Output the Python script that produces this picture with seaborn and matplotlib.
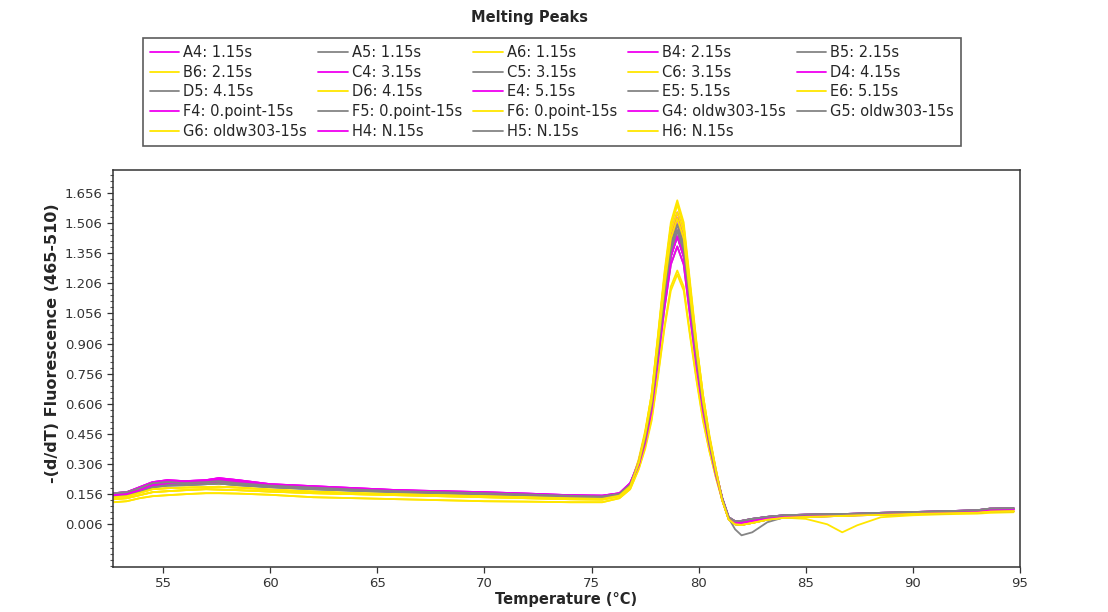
import numpy as np
import pandas as pd
import seaborn as sns
import matplotlib.pyplot as plt
from matplotlib.lines import Line2D
from matplotlib.ticker import AutoMinorLocator

# temperature grid (deg C) shared by every sample
temps = [52.7, 53.3, 53.9, 54.5, 55.2, 56.0, 57.0, 57.6, 58.5, 60.0,
         62.0, 64.0, 66.0, 68.0, 70.0, 72.0, 74.0, 75.5, 76.3, 76.8,
         77.2, 77.5, 77.8, 78.1, 78.4, 78.7, 79.0, 79.3, 79.6, 79.9,
         80.2, 80.5, 80.8,
         81.1, 81.4, 81.7, 82.0, 82.5, 83.2, 84.0, 85.0, 86.0, 86.7,
         87.4, 88.5, 90.0, 91.5, 93.0, 93.6, 94.7]

labels = ['A4: 1.15s', 'A5: 1.15s', 'A6: 1.15s', 'B4: 2.15s', 'B5: 2.15s',
          'B6: 2.15s', 'C4: 3.15s', 'C5: 3.15s', 'C6: 3.15s', 'D4: 4.15s',
          'D5: 4.15s', 'D6: 4.15s', 'E4: 5.15s', 'E5: 5.15s', 'E6: 5.15s',
          'F4: 0.point-15s', 'F5: 0.point-15s', 'F6: 0.point-15s',
          'G4: oldw303-15s', 'G5: oldw303-15s', 'G6: oldw303-15s',
          'H4: N.15s', 'H5: N.15s', 'H6: N.15s']

a4 = [0.16, 0.165, 0.19, 0.215, 0.225, 0.22, 0.225, 0.235, 0.225, 0.205, 0.195, 0.185, 0.175, 0.17, 0.165, 0.158, 0.15, 0.148, 0.16, 0.21,
      0.31, 0.45, 0.62, 0.90, 1.19, 1.43, 1.53, 1.43, 1.14, 0.87, 0.62, 0.43, 0.27,
      0.135, 0.04, 0.02, 0.022, 0.032, 0.042, 0.05, 0.053, 0.055, 0.056, 0.058, 0.062, 0.066, 0.07, 0.075, 0.083, 0.085]
a5 = [0.155, 0.16, 0.18, 0.2, 0.205, 0.205, 0.21, 0.21, 0.205, 0.195, 0.185, 0.175, 0.168, 0.162, 0.158, 0.152, 0.145, 0.142, 0.155, 0.2,
      0.31, 0.43, 0.60, 0.86, 1.14, 1.37, 1.47, 1.37, 1.10, 0.83, 0.60, 0.41, 0.26,
      0.13, 0.035, 0.012, 0.012, 0.022, 0.035, 0.045, 0.048, 0.05, 0.052, 0.055, 0.058, 0.062, 0.066, 0.07, 0.078, 0.08]
a6 = [0.14, 0.145, 0.162, 0.18, 0.185, 0.188, 0.19, 0.192, 0.188, 0.178, 0.168, 0.16, 0.155, 0.15, 0.145, 0.14, 0.135, 0.132, 0.148, 0.195,
      0.32, 0.46, 0.65, 0.94, 1.24, 1.49, 1.60, 1.49, 1.19, 0.90, 0.65, 0.44, 0.28,
      0.125, 0.03, 0.005, 0.002, 0.012, 0.028, 0.038, 0.042, 0.045, 0.047, 0.05, 0.052, 0.057, 0.06, 0.063, 0.068, 0.07]
b4 = [0.15, 0.155, 0.175, 0.2, 0.21, 0.21, 0.215, 0.22, 0.215, 0.2, 0.19, 0.18, 0.172, 0.166, 0.16, 0.155, 0.148, 0.145, 0.158, 0.205,
      0.31, 0.44, 0.61, 0.88, 1.165, 1.40, 1.50, 1.40, 1.12, 0.85, 0.61, 0.42, 0.265,
      0.13, 0.035, 0.012, 0.012, 0.022, 0.035, 0.045, 0.048, 0.05, 0.052, 0.055, 0.058, 0.062, 0.066, 0.07, 0.078, 0.08]
b5 = [0.145, 0.15, 0.17, 0.19, 0.198, 0.2, 0.205, 0.208, 0.2, 0.19, 0.18, 0.172, 0.165, 0.16, 0.155, 0.15, 0.143, 0.14, 0.152, 0.198,
      0.30, 0.43, 0.59, 0.85, 1.12, 1.34, 1.44, 1.34, 1.08, 0.82, 0.59, 0.41, 0.26,
      0.135, 0.04, 0.02, 0.022, 0.032, 0.042, 0.05, 0.053, 0.055, 0.056, 0.058, 0.062, 0.066, 0.07, 0.075, 0.083, 0.085]
b6 = [0.13, 0.135, 0.15, 0.165, 0.17, 0.175, 0.18, 0.178, 0.175, 0.168, 0.16, 0.155, 0.15, 0.145, 0.14, 0.135, 0.13, 0.128, 0.145, 0.19,
      0.33, 0.47, 0.65, 0.95, 1.26, 1.51, 1.62, 1.51, 1.21, 0.91, 0.65, 0.45, 0.28,
      0.125, 0.03, 0.005, 0.002, 0.012, 0.028, 0.038, 0.042, 0.045, 0.047, 0.05, 0.052, 0.057, 0.06, 0.063, 0.068, 0.07]
c4 = [0.155, 0.16, 0.185, 0.205, 0.215, 0.212, 0.22, 0.228, 0.22, 0.2, 0.19, 0.182, 0.174, 0.168, 0.162, 0.155, 0.147, 0.145, 0.158, 0.208,
      0.32, 0.45, 0.63, 0.91, 1.21, 1.46, 1.56, 1.46, 1.16, 0.88, 0.63, 0.43, 0.27,
      0.135, 0.04, 0.02, 0.022, 0.032, 0.042, 0.05, 0.053, 0.055, 0.056, 0.058, 0.062, 0.066, 0.07, 0.075, 0.083, 0.085]
c5 = [0.16, 0.165, 0.185, 0.21, 0.215, 0.21, 0.215, 0.22, 0.21, 0.198, 0.188, 0.178, 0.17, 0.165, 0.16, 0.154, 0.147, 0.144, 0.157, 0.203,
      0.31, 0.44, 0.61, 0.88, 1.165, 1.40, 1.50, 1.40, 1.12, 0.85, 0.61, 0.42, 0.265,
      0.13, 0.035, 0.012, 0.012, 0.022, 0.035, 0.045, 0.048, 0.05, 0.052, 0.055, 0.058, 0.062, 0.066, 0.07, 0.078, 0.08]
c6 = [0.14, 0.145, 0.162, 0.18, 0.185, 0.188, 0.19, 0.192, 0.188, 0.178, 0.168, 0.16, 0.155, 0.15, 0.145, 0.14, 0.135, 0.132, 0.148, 0.195,
      0.32, 0.45, 0.63, 0.91, 1.21, 1.46, 1.56, 1.46, 1.16, 0.88, 0.63, 0.43, 0.27,
      0.13, 0.035, 0.012, 0.012, 0.022, 0.035, 0.045, 0.048, 0.05, 0.052, 0.055, 0.058, 0.062, 0.066, 0.07, 0.078, 0.08]
d4 = [0.16, 0.165, 0.19, 0.215, 0.225, 0.22, 0.225, 0.235, 0.225, 0.205, 0.195, 0.185, 0.175, 0.17, 0.165, 0.158, 0.15, 0.148, 0.16, 0.21,
      0.31, 0.43, 0.60, 0.86, 1.14, 1.37, 1.47, 1.37, 1.10, 0.83, 0.60, 0.41, 0.26,
      0.125, 0.03, 0.005, 0.002, 0.012, 0.028, 0.038, 0.042, 0.045, 0.047, 0.05, 0.052, 0.057, 0.06, 0.063, 0.068, 0.07]
d5 = [0.155, 0.16, 0.18, 0.2, 0.205, 0.205, 0.21, 0.21, 0.205, 0.195, 0.185, 0.175, 0.168, 0.162, 0.158, 0.152, 0.145, 0.142, 0.155, 0.2,
      0.30, 0.41, 0.57, 0.82, 1.08, 1.30, 1.39, 1.30, 1.04, 0.79, 0.57, 0.40, 0.25,
      0.13, 0.035, -0.02, -0.05, -0.035, 0.015, 0.04, 0.047, 0.05, 0.052, 0.055, 0.058, 0.062, 0.066, 0.07, 0.078, 0.08]
d6 = [0.13, 0.135, 0.15, 0.165, 0.17, 0.175, 0.18, 0.178, 0.175, 0.168, 0.16, 0.155, 0.15, 0.145, 0.14, 0.135, 0.13, 0.128, 0.145, 0.19,
      0.31, 0.45, 0.62, 0.90, 1.19, 1.43, 1.53, 1.43, 1.14, 0.87, 0.62, 0.43, 0.27,
      0.13, 0.035, 0.012, 0.012, 0.022, 0.035, 0.045, 0.048, 0.05, 0.052, 0.055, 0.058, 0.062, 0.066, 0.07, 0.078, 0.08]
e4 = [0.155, 0.16, 0.185, 0.205, 0.215, 0.212, 0.22, 0.228, 0.22, 0.2, 0.19, 0.182, 0.174, 0.168, 0.162, 0.155, 0.147, 0.145, 0.158, 0.208,
      0.30, 0.43, 0.59, 0.85, 1.12, 1.34, 1.44, 1.34, 1.08, 0.82, 0.59, 0.41, 0.26,
      0.135, 0.04, 0.02, 0.022, 0.032, 0.042, 0.05, 0.053, 0.055, 0.056, 0.058, 0.062, 0.066, 0.07, 0.075, 0.083, 0.085]
e5 = [0.145, 0.15, 0.17, 0.19, 0.198, 0.2, 0.205, 0.208, 0.2, 0.19, 0.18, 0.172, 0.165, 0.16, 0.155, 0.15, 0.143, 0.14, 0.152, 0.198,
      0.31, 0.43, 0.60, 0.86, 1.14, 1.37, 1.47, 1.37, 1.10, 0.83, 0.60, 0.41, 0.26,
      0.135, 0.04, 0.02, 0.022, 0.032, 0.042, 0.05, 0.053, 0.055, 0.056, 0.058, 0.062, 0.066, 0.07, 0.075, 0.083, 0.085]
e6 = [0.115, 0.12, 0.135, 0.145, 0.15, 0.155, 0.16, 0.16, 0.158, 0.152, 0.14, 0.135, 0.13, 0.125, 0.12, 0.118, 0.115, 0.115, 0.135, 0.18,
      0.28, 0.39, 0.53, 0.75, 0.99, 1.19, 1.27, 1.19, 0.95, 0.73, 0.53, 0.37, 0.24,
      0.125, 0.03, 0.008, 0.008, 0.018, 0.03, 0.038, 0.032, 0.005, -0.035, 0.0, 0.04, 0.05, 0.055, 0.058, 0.062, 0.065]
f4 = [0.15, 0.155, 0.175, 0.2, 0.21, 0.21, 0.215, 0.22, 0.215, 0.2, 0.19, 0.18, 0.172, 0.166, 0.16, 0.155, 0.148, 0.145, 0.158, 0.205,
      0.31, 0.45, 0.62, 0.90, 1.19, 1.43, 1.53, 1.43, 1.14, 0.87, 0.62, 0.43, 0.27,
      0.13, 0.035, 0.012, 0.012, 0.022, 0.035, 0.045, 0.048, 0.05, 0.052, 0.055, 0.058, 0.062, 0.066, 0.07, 0.078, 0.08]
f5 = [0.16, 0.165, 0.185, 0.21, 0.215, 0.21, 0.215, 0.22, 0.21, 0.198, 0.188, 0.178, 0.17, 0.165, 0.16, 0.154, 0.147, 0.144, 0.157, 0.203,
      0.30, 0.43, 0.59, 0.85, 1.12, 1.34, 1.44, 1.34, 1.08, 0.82, 0.59, 0.41, 0.26,
      0.125, 0.03, 0.005, 0.002, 0.012, 0.028, 0.038, 0.042, 0.045, 0.047, 0.05, 0.052, 0.057, 0.06, 0.063, 0.068, 0.07]
f6 = [0.115, 0.12, 0.135, 0.145, 0.15, 0.155, 0.16, 0.16, 0.158, 0.152, 0.14, 0.135, 0.13, 0.125, 0.12, 0.118, 0.115, 0.115, 0.135, 0.18,
      0.28, 0.38, 0.52, 0.74, 0.98, 1.17, 1.25, 1.17, 0.94, 0.72, 0.52, 0.37, 0.24,
      0.125, 0.03, 0.005, 0.002, 0.012, 0.028, 0.038, 0.042, 0.045, 0.047, 0.05, 0.052, 0.057, 0.06, 0.063, 0.068, 0.07]
g4 = [0.16, 0.165, 0.19, 0.215, 0.225, 0.22, 0.225, 0.235, 0.225, 0.205, 0.195, 0.185, 0.175, 0.17, 0.165, 0.158, 0.15, 0.148, 0.16, 0.21,
      0.30, 0.41, 0.57, 0.82, 1.08, 1.30, 1.39, 1.30, 1.04, 0.79, 0.57, 0.40, 0.25,
      0.13, 0.035, 0.012, 0.012, 0.022, 0.035, 0.045, 0.048, 0.05, 0.052, 0.055, 0.058, 0.062, 0.066, 0.07, 0.078, 0.08]
g5 = [0.145, 0.15, 0.17, 0.19, 0.198, 0.2, 0.205, 0.208, 0.2, 0.19, 0.18, 0.172, 0.165, 0.16, 0.155, 0.15, 0.143, 0.14, 0.152, 0.198,
      0.31, 0.44, 0.61, 0.88, 1.165, 1.40, 1.50, 1.40, 1.12, 0.85, 0.61, 0.42, 0.265,
      0.135, 0.04, 0.02, 0.022, 0.032, 0.042, 0.05, 0.053, 0.055, 0.056, 0.058, 0.062, 0.066, 0.07, 0.075, 0.083, 0.085]
g6 = [0.13, 0.135, 0.15, 0.165, 0.17, 0.175, 0.18, 0.178, 0.175, 0.168, 0.16, 0.155, 0.15, 0.145, 0.14, 0.135, 0.13, 0.128, 0.145, 0.19,
      0.32, 0.46, 0.65, 0.94, 1.24, 1.49, 1.60, 1.49, 1.19, 0.90, 0.65, 0.44, 0.28,
      0.125, 0.03, 0.005, 0.002, 0.012, 0.028, 0.038, 0.042, 0.045, 0.047, 0.05, 0.052, 0.057, 0.06, 0.063, 0.068, 0.07]
h4 = [0.15, 0.155, 0.175, 0.2, 0.21, 0.21, 0.215, 0.22, 0.215, 0.2, 0.19, 0.18, 0.172, 0.166, 0.16, 0.155, 0.148, 0.145, 0.158, 0.205,
      0.30, 0.43, 0.59, 0.85, 1.12, 1.34, 1.44, 1.34, 1.08, 0.82, 0.59, 0.41, 0.26,
      0.13, 0.035, 0.012, 0.012, 0.022, 0.035, 0.045, 0.048, 0.05, 0.052, 0.055, 0.058, 0.062, 0.066, 0.07, 0.078, 0.08]
h5 = [0.16, 0.165, 0.185, 0.21, 0.215, 0.21, 0.215, 0.22, 0.21, 0.198, 0.188, 0.178, 0.17, 0.165, 0.16, 0.154, 0.147, 0.144, 0.157, 0.203,
      0.31, 0.43, 0.60, 0.86, 1.14, 1.37, 1.47, 1.37, 1.10, 0.83, 0.60, 0.41, 0.26,
      0.135, 0.04, 0.02, 0.022, 0.032, 0.042, 0.05, 0.053, 0.055, 0.056, 0.058, 0.062, 0.066, 0.07, 0.075, 0.083, 0.085]
h6 = [0.14, 0.145, 0.162, 0.18, 0.185, 0.188, 0.19, 0.192, 0.188, 0.178, 0.168, 0.16, 0.155, 0.15, 0.145, 0.14, 0.135, 0.132, 0.148, 0.195,
      0.31, 0.45, 0.62, 0.90, 1.19, 1.43, 1.53, 1.43, 1.14, 0.87, 0.62, 0.43, 0.27,
      0.125, 0.03, 0.005, 0.002, 0.012, 0.028, 0.038, 0.042, 0.045, 0.047, 0.05, 0.052, 0.057, 0.06, 0.063, 0.068, 0.07]

series = [a4, a5, a6, b4, b5, b6, c4, c5, c6, d4, d5, d6,
          e4, e5, e6, f4, f5, f6, g4, g5, g6, h4, h5, h6]

ytick_vals = [0.006, 0.156, 0.306, 0.456, 0.606, 0.756, 0.906,
              1.056, 1.206, 1.356, 1.506, 1.656]
xtick_vals = [55, 60, 65, 70, 75, 80, 85, 90, 95]

magenta, grey, yellow = '#f000f0', '#858585', '#ffe600'
colors = {}
for i, lab in enumerate(labels):
    colors[lab] = [magenta, grey, yellow][i % 3]

frames = []
for lab, vals in zip(labels, series):
    frames.append(pd.DataFrame({'temp': temps, 'value': vals, 'sample': lab}))
df = pd.concat(frames, ignore_index=True)

sns.set_style('white')
plt.rcParams['font.family'] = ['DejaVu Sans']

fig = plt.figure(figsize=(11.08, 6.12), dpi=100)
ax = fig.add_axes([0.102, 0.0735, 0.8186, 0.6487])

sns.lineplot(data=df, x='temp', y='value', hue='sample', palette=colors,
             hue_order=labels, sort=False, estimator=None, linewidth=1.3,
             legend=False, ax=ax)

ax.set_xlim(52.66, 95.0)
ax.set_ylim(-0.208, 1.771)
ax.set_xticks(xtick_vals)
ax.set_yticks(ytick_vals)
ax.set_yticklabels(['%.3f' % v for v in ytick_vals])
ax.yaxis.set_minor_locator(AutoMinorLocator(5))
ax.tick_params(axis='both', which='major', direction='out', length=4,
               width=0.9, labelsize=9.5, colors='#333333', left=True, bottom=True)
ax.tick_params(axis='y', which='minor', direction='out', length=2,
               width=0.8, colors='#555555', left=True)
for sp in ax.spines.values():
    sp.set_color('#333333')
    sp.set_linewidth(1.1)

ax.set_xlabel('Temperature (°C)', fontsize=10.5, fontweight='bold', labelpad=1)
ax.set_ylabel('')
fig.text(0.047, 0.44, '-(d/dT) Fluorescence (465-510)', rotation=90,
         fontsize=11.5, fontweight='bold', ha='center', va='center')
fig.text(0.478, 0.972, 'Melting Peaks', fontsize=10.5, fontweight='bold',
         ha='center', va='center')

# legend reads row by row, matplotlib fills column by column
handles = [Line2D([], [], color=colors[lab], lw=1.3) for lab in labels]
ncol = 5
order = []
for c in range(ncol):
    order += [r * ncol + c for r in range(5) if r * ncol + c < len(labels)]
leg = fig.legend([handles[i] for i in order], [labels[i] for i in order],
                 ncol=ncol, loc='upper left', mode='expand',
                 bbox_to_anchor=(143 / 1108, 1 - 38 / 612, 818 / 1108, 0),
                 fontsize=10.5, frameon=True, fancybox=False, edgecolor='#333333',
                 handlelength=2.0, handletextpad=0.3, labelspacing=0.33,
                 borderaxespad=0, borderpad=0.47, columnspacing=0.3)
leg.get_frame().set_linewidth(1.2)

fig.savefig('out.png', dpi=100)
